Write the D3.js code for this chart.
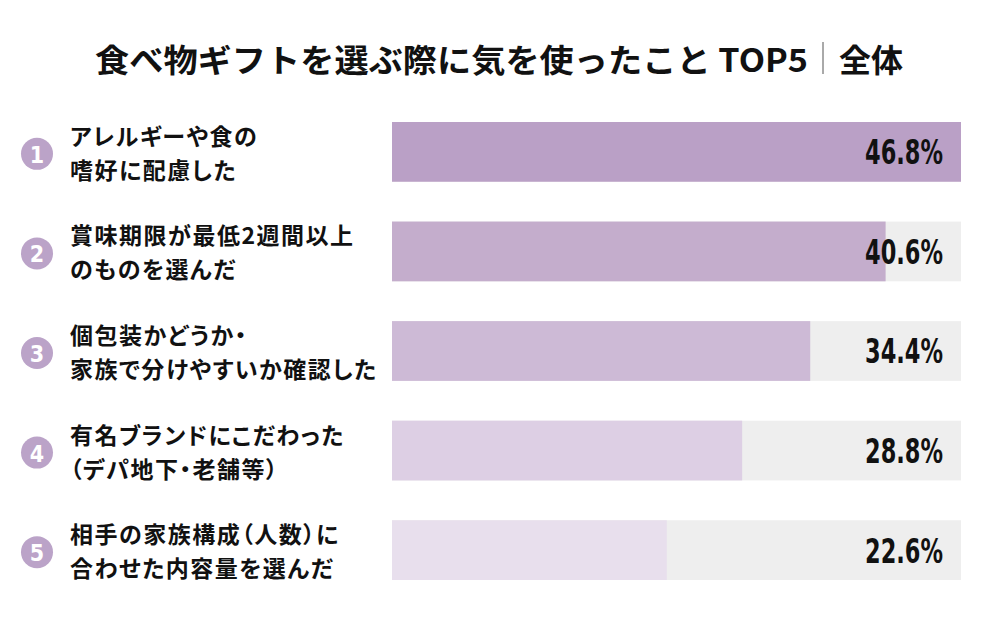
<!DOCTYPE html>
<html>
<head>
<meta charset="utf-8">
<script src="https://cdn.jsdelivr.net/npm/d3@7"></script>
<style>
  body { margin: 0; background: #fff; }
  svg { display: block; }
</style>
</head>
<body>
<div id="wrapper"></div>
<script>
// DATA
const ranks = [1, 2, 3, 4, 5]
const labelLine1 = ['アレルギーや食の', '賞味期限が最低2週間以上', '個包装かどうか・', '有名ブランドにこだわった', '相手の家族構成（人数）に']
const labelLine2 = ['嗜好に配慮した', 'のものを選んだ', '家族で分けやすいか確認した', '（デパ地下・老舗等）', '合わせた内容量を選んだ']
const values = [46.8, 40.6, 34.4, 28.8, 22.6]
const barColors = ['#baa0c6', '#c4adcc', '#cdbad6', '#ddcfe4', '#e8dfed']
const titleText = '食べ物ギフトを選ぶ際に気を使ったこと TOP5'
const titleSub = '全体'

const dimensions = {
  width: 1000,
  height: 619,
  margin: { top: 122, right: 39, bottom: 39, left: 392 }
}
dimensions.boundedWidth = dimensions.width - dimensions.margin.left - dimensions.margin.right
dimensions.boundedHeight = 580 - dimensions.margin.top

const jp = '"Noto Sans CJK JP", "Noto Sans", sans-serif'
const narrow = '"Liberation Sans Narrow", "DejaVu Sans Condensed", sans-serif'

const wrapper = d3.select('#wrapper')
  .append('svg')
  .attr('width', dimensions.width)
  .attr('height', dimensions.height)

// title
wrapper.append('text')
  .attr('x', 808)
  .attr('y', 58)
  .attr('text-anchor', 'end')
  .attr('dominant-baseline', 'central')
  .style('font-family', jp)
  .style('font-weight', 700)
  .style('font-size', '32px')
  .attr('fill', '#111')
  .attr('textLength', 713)
  .attr('lengthAdjust', 'spacingAndGlyphs')
  .text(titleText)

wrapper.append('line')
  .attr('x1', 823).attr('x2', 823)
  .attr('y1', 42).attr('y2', 74)
  .attr('stroke', '#555')
  .attr('stroke-width', 1)

wrapper.append('text')
  .attr('x', 839)
  .attr('y', 58)
  .attr('dominant-baseline', 'central')
  .style('font-family', jp)
  .style('font-weight', 700)
  .style('font-size', '32px')
  .attr('fill', '#111')
  .text(titleSub)

// SCALES
const xScale = d3.scaleLinear()
  .domain([0, d3.max(values)])
  .range([0, dimensions.boundedWidth])

const yScale = d3.scaleBand()
  .domain(ranks)
  .range([0, dimensions.boundedHeight])
  .paddingInner(0.4)
  .paddingOuter(0)

const bounds = wrapper.append('g')
  .attr('transform', `translate(${dimensions.margin.left}, ${dimensions.margin.top})`)

const rows = bounds.selectAll('g.row')
  .data(ranks)
  .join('g')
  .attr('class', 'row')
  .attr('transform', d => `translate(0, ${yScale(d)})`)

const bh = yScale.bandwidth()

// grey track
rows.append('rect')
  .attr('width', dimensions.boundedWidth)
  .attr('height', bh)
  .attr('fill', '#eeeeee')

// value bar
rows.append('rect')
  .attr('width', (d, i) => xScale(values[i]))
  .attr('height', bh)
  .attr('fill', (d, i) => barColors[i])

// value label
rows.append('text')
  .attr('x', dimensions.boundedWidth - 18)
  .attr('y', bh / 2 + 1)
  .attr('text-anchor', 'end')
  .attr('dominant-baseline', 'central')
  .style('font-family', narrow)
  .style('font-weight', 700)
  .style('font-size', '33px')
  .attr('textLength', 78)
  .attr('lengthAdjust', 'spacingAndGlyphs')
  .attr('fill', '#111')
  .text((d, i) => values[i].toFixed(1) + '%')

// rank circle
rows.append('circle')
  .attr('cx', 37 - dimensions.margin.left)
  .attr('cy', bh / 2 + 2)
  .attr('r', 16)
  .attr('fill', '#bba3c8')

rows.append('text')
  .attr('x', 37 - dimensions.margin.left)
  .attr('y', bh / 2 + 3)
  .attr('text-anchor', 'middle')
  .attr('dominant-baseline', 'central')
  .style('font-family', narrow)
  .style('font-weight', 700)
  .style('font-size', '23px')
  .attr('fill', '#fff')
  .text(d => d)

// category labels
const label = rows.append('text')
  .attr('x', 70 - dimensions.margin.left)
  .style('font-family', jp)
  .style('font-weight', 700)
  .style('font-size', '23px')
  .style('font-feature-settings', '"palt"')
  .style('letter-spacing', '1.5px')
  .attr('fill', '#111')

label.append('tspan')
  .attr('x', 70 - dimensions.margin.left)
  .attr('y', bh / 2 - 7)
  .text((d, i) => labelLine1[i])

label.append('tspan')
  .attr('x', 70 - dimensions.margin.left)
  .attr('y', bh / 2 + 27)
  .text((d, i) => labelLine2[i])
</script>
</body>
</html>
